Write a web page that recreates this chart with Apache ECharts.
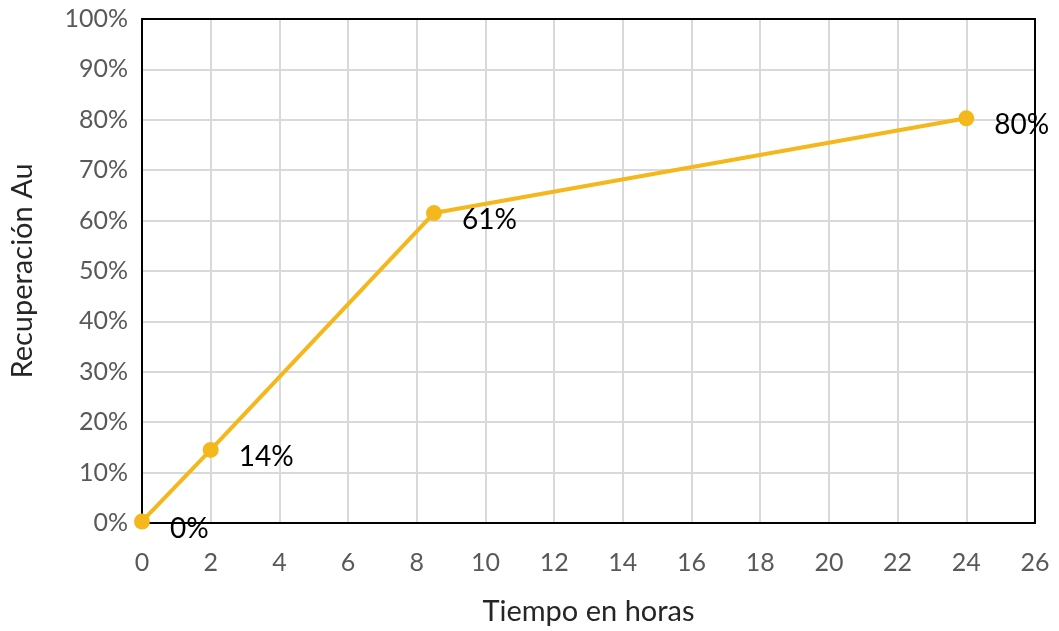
<!DOCTYPE html>
<html lang="es">
<head>
  <meta charset="UTF-8" />
  <title>Recuperación Au</title>
  <style>
    body { margin: 0; background: #fff }
    #chart { width: 1059px; height: 631px }
  </style>
  <script src="https://cdn.jsdelivr.net/npm/echarts@6/dist/echarts.min.js"></script>
</head>
<body>
  <div id="chart"></div>
  <script>
    // datos
    const horas = [0, 2, 8.5, 24];
    const recuperacion = [0.003, 0.145, 0.615, 0.803];
    const etiquetas = ['0%', '14%', '61%', '80%'];

    const chart = echarts.init(document.getElementById('chart'));
    const font = 'Lato, "Open Sans", sans-serif';
    const borde = { show: true, onZero: false, lineStyle: { color: '#000', width: 2 } };

    chart.setOption({
      backgroundColor: '#fff',
      animation: false,
      grid: { left: 141, right: 24, top: 19, bottom: 108 },
      xAxis: [{
        type: 'value',
        min: 0, max: 26, interval: 2,
        name: 'Tiempo en horas',
        nameLocation: 'middle',
        nameGap: 74,
        nameTextStyle: { fontFamily: font, fontSize: 29, color: '#262626' },
        axisLine: borde,
        axisTick: { show: false },
        axisLabel: { fontFamily: font, fontSize: 25, color: '#595959', margin: 27 },
        splitLine: { show: true, lineStyle: { color: '#d9d9d9', width: 2 } }
      }, {
        // borde superior
        type: 'value', position: 'top',
        min: 0, max: 26, interval: 2,
        axisLine: borde, axisTick: { show: false },
        axisLabel: { show: false }, splitLine: { show: false }
      }],
      yAxis: [{
        type: 'value',
        min: 0, max: 1, interval: 0.1,
        name: 'Recuperación Au',
        nameLocation: 'middle',
        nameGap: 105,
        nameTextStyle: { fontFamily: font, fontSize: 29, color: '#262626' },
        axisLine: borde,
        axisTick: { show: false },
        axisLabel: {
          fontFamily: font, fontSize: 25, color: '#595959', margin: 14,
          formatter: v => Math.round(v * 100) + '%'
        },
        splitLine: { show: true, lineStyle: { color: '#d9d9d9', width: 2 } }
      }, {
        // borde derecho
        type: 'value', position: 'right',
        min: 0, max: 1, interval: 0.1,
        axisLine: borde, axisTick: { show: false },
        axisLabel: { show: false }, splitLine: { show: false }
      }],
      series: [{
        type: 'line',
        data: horas.map((h, i) => [h, recuperacion[i]]),
        symbol: 'circle',
        symbolSize: 16,
        lineStyle: { color: '#f4b71c', width: 4 },
        itemStyle: { color: '#f4b71c' },
        z: 3,
        label: {
          show: true,
          position: 'right',
          distance: 20,
          offset: [0, 7],
          fontFamily: font,
          fontSize: 28,
          color: '#000',
          formatter: p => etiquetas[p.dataIndex]
        }
      }]
    });
  </script>
</body>
</html>
